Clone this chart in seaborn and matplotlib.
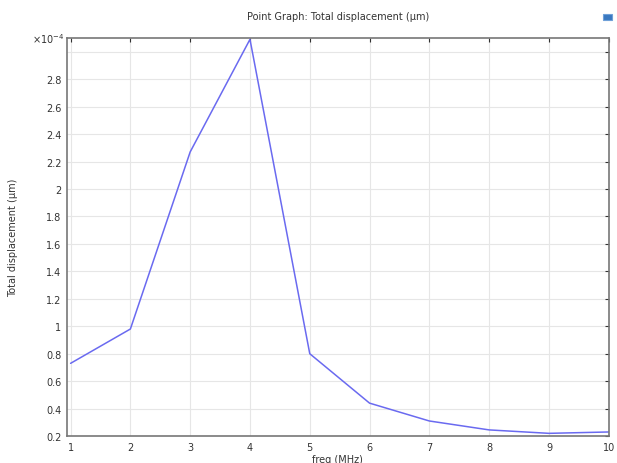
import matplotlib
matplotlib.use("Agg")
import matplotlib.pyplot as plt
import seaborn as sns
import pandas as pd
from matplotlib.ticker import FixedLocator, FuncFormatter

freq = [1, 2, 3, 4, 5, 6, 7, 8, 9, 10]
disp = [0.73, 0.98, 2.27, 3.09, 0.80, 0.44, 0.31, 0.245, 0.22, 0.23]
yticks = [0.2, 0.4, 0.6, 0.8, 1.0, 1.2, 1.4, 1.6, 1.8, 2.0, 2.2, 2.4, 2.6, 2.8, 3.0]
xticks = [1, 2, 3, 4, 5, 6, 7, 8, 9, 10]

df = pd.DataFrame({"freq": freq, "disp": disp})

sns.set_style("white")
plt.rcParams['font.family'] = ['DejaVu Sans']

fig = plt.figure(figsize=(6.17, 4.64), dpi=100)
ax = fig.add_axes([0.1086, 0.058, 0.878, 0.858])

sns.lineplot(data=df, x="freq", y="disp", ax=ax, color="#6a6af0", linewidth=1.1)

ax.set_xlim(0.94, 10.0)
ax.set_ylim(0.2, 3.1)
ax.xaxis.set_major_locator(FixedLocator(xticks))
ax.yaxis.set_major_locator(FixedLocator(yticks))
ax.yaxis.set_major_formatter(FuncFormatter(lambda v, p: "" if abs(v - 3.0) < 1e-9 else f"{v:g}"))
ax.grid(True, color="#e6e6e6", linewidth=0.8)
ax.tick_params(direction="in", length=3, width=0.8, labelsize=7, colors="#333333",
               top=True, right=True, pad=4)
for s in ax.spines.values():
    s.set_color("#777777")
    s.set_linewidth(1.2)

ax.set_xlabel("freq (MHz)", fontsize=7, color="#333333", labelpad=2)
ax.set_ylabel("Total displacement (µm)", fontsize=7, color="#333333", labelpad=20)
ax.set_title("Point Graph: Total displacement (µm)", fontsize=7, color="#333333", pad=14)
ax.text(-0.005, 1.0, "×10$^{-4}$", transform=ax.transAxes, fontsize=7, color="#333333",
        ha="right", va="center")

fig.patches.append(plt.Rectangle((0.978, 0.955), 0.014, 0.012, transform=fig.transFigure,
                                 facecolor="#3a78c0", edgecolor="#6fa0d8", linewidth=0.8))

fig.savefig("out.png", dpi=100, facecolor="white")
